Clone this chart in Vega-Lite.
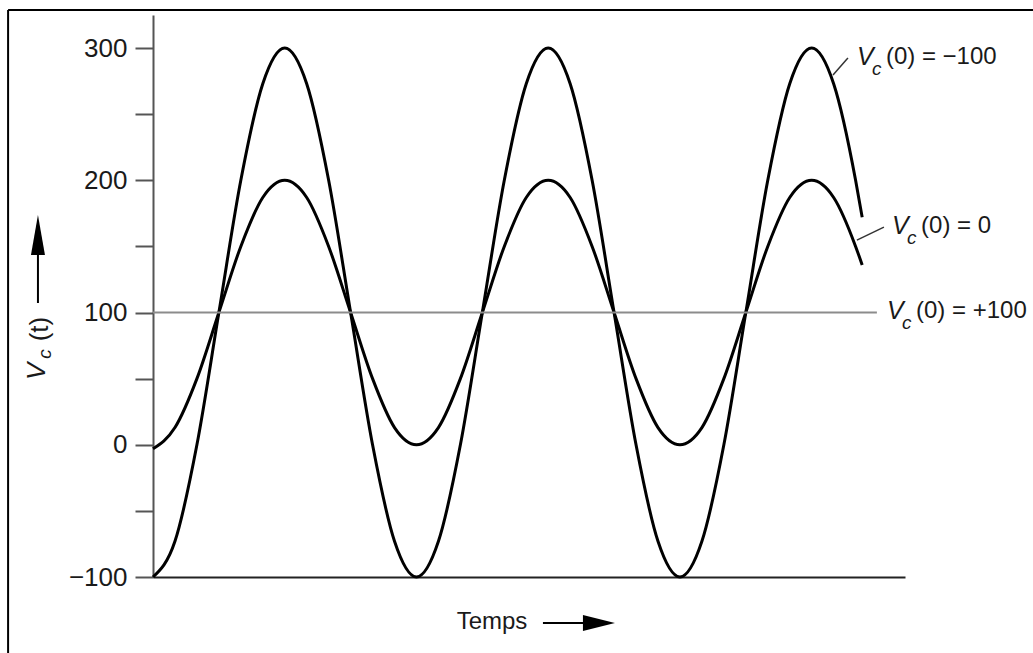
{
  "$schema": "https://vega.github.io/schema/vega-lite/v6.json",
  "autosize": {"type": "none"},
  "width": 752,
  "height": 562,
  "padding": {"left": 153, "top": 15, "right": 128, "bottom": 76},
  "background": "white",
  "data": {"values": [{}]},
  "config": {
    "view": {"stroke": null},
    "font": "Liberation Sans",
    "text": {"font": "Liberation Sans", "color": "#1a1a1a"}
  },
  "datasets": {
    "curves": [
      {"t": 0, "v": -100, "series": "Vc(0) = -100"}, {"t": 1, "v": -73, "series": "Vc(0) = -100"}, {"t": 2, "v": 0, "series": "Vc(0) = -100"}, {"t": 3, "v": 100, "series": "Vc(0) = -100"}, {"t": 4, "v": 200, "series": "Vc(0) = -100"}, {"t": 5, "v": 273, "series": "Vc(0) = -100"}, {"t": 6, "v": 300, "series": "Vc(0) = -100"}, {"t": 7, "v": 273, "series": "Vc(0) = -100"}, {"t": 8, "v": 200, "series": "Vc(0) = -100"}, {"t": 9, "v": 100, "series": "Vc(0) = -100"}, {"t": 10, "v": 0, "series": "Vc(0) = -100"}, {"t": 11, "v": -73, "series": "Vc(0) = -100"},
      {"t": 12, "v": -100, "series": "Vc(0) = -100"}, {"t": 13, "v": -73, "series": "Vc(0) = -100"}, {"t": 14, "v": 0, "series": "Vc(0) = -100"}, {"t": 15, "v": 100, "series": "Vc(0) = -100"}, {"t": 16, "v": 200, "series": "Vc(0) = -100"}, {"t": 17, "v": 273, "series": "Vc(0) = -100"}, {"t": 18, "v": 300, "series": "Vc(0) = -100"}, {"t": 19, "v": 273, "series": "Vc(0) = -100"}, {"t": 20, "v": 200, "series": "Vc(0) = -100"}, {"t": 21, "v": 100, "series": "Vc(0) = -100"}, {"t": 22, "v": 0, "series": "Vc(0) = -100"}, {"t": 23, "v": -73, "series": "Vc(0) = -100"},
      {"t": 24, "v": -100, "series": "Vc(0) = -100"}, {"t": 25, "v": -73, "series": "Vc(0) = -100"}, {"t": 26, "v": 0, "series": "Vc(0) = -100"}, {"t": 27, "v": 100, "series": "Vc(0) = -100"}, {"t": 28, "v": 200, "series": "Vc(0) = -100"}, {"t": 29, "v": 273, "series": "Vc(0) = -100"}, {"t": 30, "v": 300, "series": "Vc(0) = -100"}, {"t": 31, "v": 273, "series": "Vc(0) = -100"}, {"t": 32, "v": 200, "series": "Vc(0) = -100"}, {"t": 32.3, "v": 172, "series": "Vc(0) = -100"},
      {"t": 0, "v": -3, "series": "Vc(0) = 0"}, {"t": 1, "v": 13, "series": "Vc(0) = 0"}, {"t": 2, "v": 50, "series": "Vc(0) = 0"}, {"t": 3, "v": 100, "series": "Vc(0) = 0"}, {"t": 4, "v": 150, "series": "Vc(0) = 0"}, {"t": 5, "v": 187, "series": "Vc(0) = 0"}, {"t": 6, "v": 200, "series": "Vc(0) = 0"}, {"t": 7, "v": 187, "series": "Vc(0) = 0"}, {"t": 8, "v": 150, "series": "Vc(0) = 0"}, {"t": 9, "v": 100, "series": "Vc(0) = 0"}, {"t": 10, "v": 50, "series": "Vc(0) = 0"}, {"t": 11, "v": 13, "series": "Vc(0) = 0"},
      {"t": 12, "v": 0, "series": "Vc(0) = 0"}, {"t": 13, "v": 13, "series": "Vc(0) = 0"}, {"t": 14, "v": 50, "series": "Vc(0) = 0"}, {"t": 15, "v": 100, "series": "Vc(0) = 0"}, {"t": 16, "v": 150, "series": "Vc(0) = 0"}, {"t": 17, "v": 187, "series": "Vc(0) = 0"}, {"t": 18, "v": 200, "series": "Vc(0) = 0"}, {"t": 19, "v": 187, "series": "Vc(0) = 0"}, {"t": 20, "v": 150, "series": "Vc(0) = 0"}, {"t": 21, "v": 100, "series": "Vc(0) = 0"}, {"t": 22, "v": 50, "series": "Vc(0) = 0"}, {"t": 23, "v": 13, "series": "Vc(0) = 0"},
      {"t": 24, "v": 0, "series": "Vc(0) = 0"}, {"t": 25, "v": 13, "series": "Vc(0) = 0"}, {"t": 26, "v": 50, "series": "Vc(0) = 0"}, {"t": 27, "v": 100, "series": "Vc(0) = 0"}, {"t": 28, "v": 150, "series": "Vc(0) = 0"}, {"t": 29, "v": 187, "series": "Vc(0) = 0"}, {"t": 30, "v": 200, "series": "Vc(0) = 0"}, {"t": 31, "v": 187, "series": "Vc(0) = 0"}, {"t": 32, "v": 150, "series": "Vc(0) = 0"}, {"t": 32.3, "v": 136, "series": "Vc(0) = 0"}
    ],
    "labels": [
      {"rest": "(0) = −100", "t": 32.06, "v": 293},
      {"rest": "(0) = 0", "t": 33.66, "v": 165.5},
      {"rest": "(0) = +100", "t": 33.43, "v": 101}
    ],
    "leaders": [
      {"t": 30.97, "v": 279.6, "t2": 31.65, "v2": 292.4},
      {"t": 32.06, "v": 154.8, "t2": 33.29, "v2": 164.6}
    ]
  },
  "layer": [
    {
      "data": {"name": "curves"},
      "mark": {"type": "line", "interpolate": "monotone", "strokeWidth": 3, "clip": false},
      "encoding": {
        "x": {"field": "t", "type": "quantitative", "scale": {"domain": [0, 34.25], "nice": false, "zero": false},
          "axis": {"domainColor": "#222", "domainWidth": 2, "ticks": false, "labels": false, "grid": false, "title": null}},
        "y": {"field": "v", "type": "quantitative", "scale": {"domain": [-100, 325], "nice": false, "zero": false},
          "axis": {"values": [-100, -50, 0, 50, 100, 150, 200, 250, 300], "labelExpr": "datum.value % 100 === 0 ? datum.label : ''",
            "domainColor": "#555", "domainWidth": 2, "tickColor": "#555", "tickWidth": 2, "tickSize": 18,
            "labelFontSize": 26, "labelColor": "#1a1a1a", "labelPadding": 8, "labelFont": "Liberation Sans",
            "grid": false, "title": null}},
        "color": {"field": "series", "type": "nominal", "scale": {"range": ["black", "black"]}, "legend": null}
      }
    },
    {
      "mark": {"type": "rule", "color": "black", "strokeWidth": 2},
      "encoding": {
        "x": {"datum": -6.6, "type": "quantitative"},
        "x2": {"datum": 40.2},
        "y": {"datum": 328.7, "type": "quantitative"}
      }
    },
    {
      "mark": {"type": "rule", "color": "black", "strokeWidth": 2},
      "encoding": {
        "x": {"datum": -6.6, "type": "quantitative"},
        "y": {"datum": 328.7, "type": "quantitative"},
        "y2": {"datum": -160}
      }
    },
    {
      "mark": {"type": "rule", "color": "#8c8c8c", "strokeWidth": 2},
      "encoding": {
        "x": {"datum": 0, "type": "quantitative"},
        "x2": {"datum": 32.97},
        "y": {"datum": 100, "type": "quantitative"}
      }
    },
    {
      "data": {"name": "leaders"},
      "mark": {"type": "rule", "color": "#333", "strokeWidth": 1.5},
      "encoding": {
        "x": {"field": "t", "type": "quantitative"},
        "x2": {"field": "t2"},
        "y": {"field": "v", "type": "quantitative"},
        "y2": {"field": "v2"}
      }
    },
    {
      "data": {"name": "labels"},
      "mark": {"type": "text", "text": "V", "fontStyle": "italic", "fontSize": 25, "align": "left", "baseline": "middle"},
      "encoding": {
        "x": {"field": "t", "type": "quantitative"},
        "y": {"field": "v", "type": "quantitative"}
      }
    },
    {
      "data": {"name": "labels"},
      "mark": {"type": "text", "text": "c", "fontStyle": "italic", "fontSize": 19, "align": "left", "baseline": "middle", "dx": 15, "dy": 12},
      "encoding": {
        "x": {"field": "t", "type": "quantitative"},
        "y": {"field": "v", "type": "quantitative"}
      }
    },
    {
      "data": {"name": "labels"},
      "mark": {"type": "text", "fontSize": 24, "align": "left", "baseline": "middle", "dx": 29},
      "encoding": {
        "text": {"field": "rest"},
        "x": {"field": "t", "type": "quantitative"},
        "y": {"field": "v", "type": "quantitative"}
      }
    },
    {
      "mark": {"type": "text", "text": "Temps", "fontSize": 24, "align": "center", "baseline": "middle"},
      "encoding": {
        "x": {"datum": 15.44, "type": "quantitative"},
        "y": {"datum": -134, "type": "quantitative"}
      }
    },
    {
      "mark": {"type": "rule", "color": "black", "strokeWidth": 2},
      "encoding": {
        "x": {"datum": 17.76, "type": "quantitative"},
        "x2": {"datum": 20.0},
        "y": {"datum": -134.8, "type": "quantitative"}
      }
    },
    {
      "mark": {"type": "point", "shape": "M-1,-0.5L1,0L-1,0.5Z", "filled": true, "size": 1024, "color": "black", "opacity": 1},
      "encoding": {
        "x": {"datum": 20.31, "type": "quantitative"},
        "y": {"datum": -134.8, "type": "quantitative"}
      }
    },
    {
      "mark": {"type": "text", "text": "V", "fontStyle": "italic", "fontSize": 26, "align": "center", "baseline": "middle", "angle": 270},
      "encoding": {
        "x": {"datum": -5.28, "type": "quantitative"},
        "y": {"datum": 55.5, "type": "quantitative"}
      }
    },
    {
      "mark": {"type": "text", "text": "c", "fontStyle": "italic", "fontSize": 19, "align": "center", "baseline": "middle", "angle": 270},
      "encoding": {
        "x": {"datum": -4.93, "type": "quantitative"},
        "y": {"datum": 68.6, "type": "quantitative"}
      }
    },
    {
      "mark": {"type": "text", "text": "(t)", "fontSize": 26, "align": "center", "baseline": "middle", "angle": 270},
      "encoding": {
        "x": {"datum": -5.15, "type": "quantitative"},
        "y": {"datum": 87.5, "type": "quantitative"}
      }
    },
    {
      "mark": {"type": "rule", "color": "black", "strokeWidth": 2},
      "encoding": {
        "x": {"datum": -5.24, "type": "quantitative"},
        "y": {"datum": 107.2, "type": "quantitative"},
        "y2": {"datum": 148}
      }
    },
    {
      "mark": {"type": "point", "shape": "M-0.35,1L0,-1L0.35,1Z", "filled": true, "size": 1600, "color": "black", "opacity": 1},
      "encoding": {
        "x": {"datum": -5.24, "type": "quantitative"},
        "y": {"datum": 158.6, "type": "quantitative"}
      }
    }
  ]
}
